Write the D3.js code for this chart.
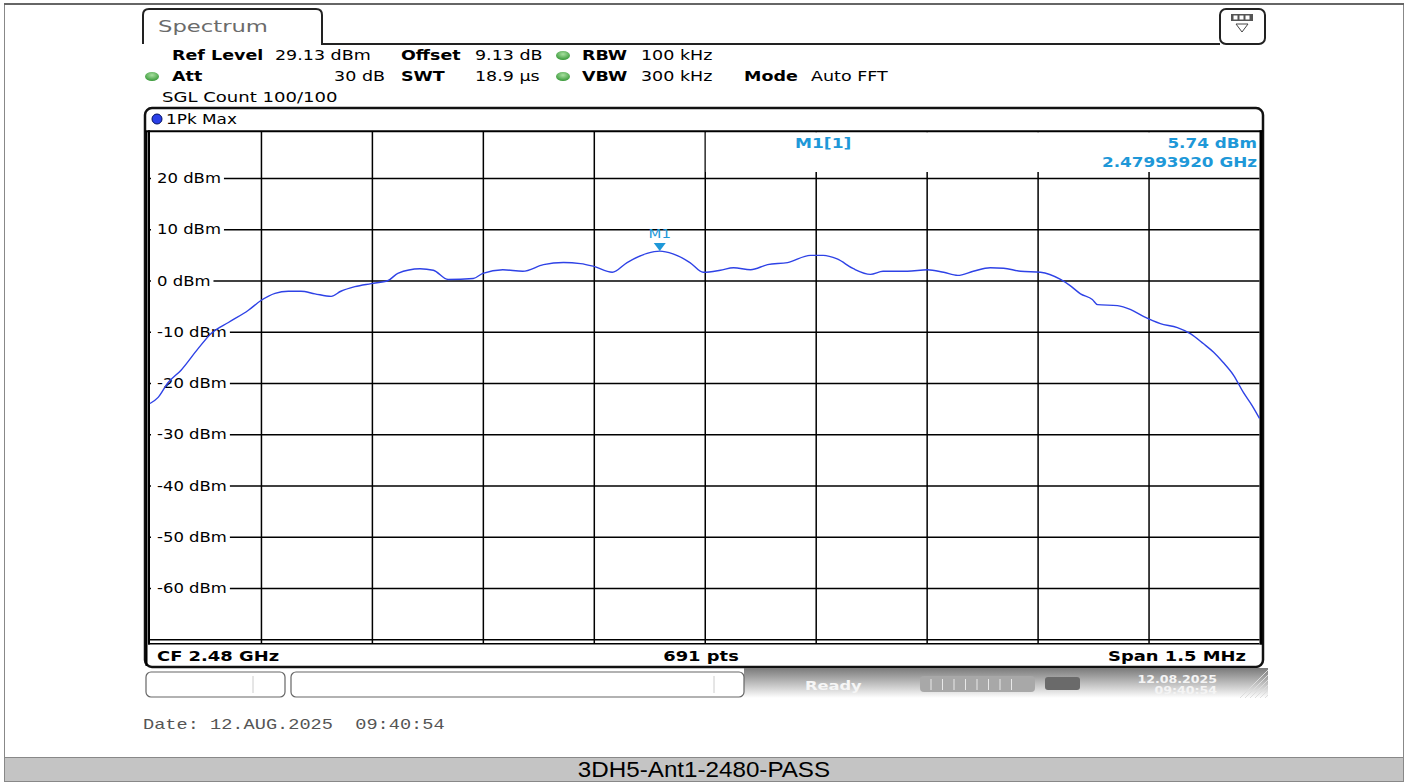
<!DOCTYPE html>
<html><head><meta charset="utf-8">
<script src="https://cdn.jsdelivr.net/npm/d3@7/dist/d3.min.js"></script>
<style>html,body{margin:0;padding:0;background:#fff;overflow:hidden} text{white-space:pre}</style>
</head><body>
<svg id="c" width="1408" height="782"></svg>
<script>
// ---- data ----
const freqKHz = [-750,-739,-726,-708,-685,-667,-644,-617,-600,-581,-563,-546,-527,-505,-492,-473,-451,-428,-415,-385,-367,-347,-313,-300,-273,-246,-218,-191,-168,-151,-125,-105,-78,-60.8,-43,-20,-2,21,39,62,85,112,143,160,179,201,224,241,274,301,323,342,363,386,404,427,454,481,494,508,524,531,558,576,593,616,639,657,674,688,701,715,728,740,750];
const levelDbm = [-24.0,-22.8,-20.0,-17.5,-13.3,-10.3,-8.2,-5.8,-3.9,-2.5,-2.1,-2.1,-2.6,-3.1,-2.1,-1.2,-0.6,0.0,1.4,2.3,2.0,0.2,0.4,1.4,2.1,1.8,3.1,3.5,3.3,2.8,1.6,3.5,5.3,5.74,5.2,3.5,1.6,2.0,2.5,2.1,3.1,3.5,4.9,4.9,4.2,2.3,1.2,1.8,1.8,2.1,1.6,1.0,1.8,2.5,2.4,1.8,1.6,0.2,-1.0,-2.6,-3.7,-4.7,-4.9,-5.7,-7.0,-8.4,-9.2,-10.4,-12.3,-14.0,-16.0,-18.5,-21.8,-24.4,-26.9];
const yTickValues = [20,10,0,-10,-20,-30,-40,-50,-60];
const yTickLabels = ['20 dBm','10 dBm','0 dBm','-10 dBm','-20 dBm','-30 dBm','-40 dBm','-50 dBm','-60 dBm'];
const yGridValues = [20,10,0,-10,-20,-30,-40,-50,-60,-70];
const xGridValues = [-600,-450,-300,-150,0,150,300,450,600];
const refLevel = 29.13, yRange = 100;
const marker = {freq:-60.8, level:5.74, label:'M1', info:'M1[1]', levelText:'5.74 dBm', freqText:'2.47993920 GHz'};
const headerRow1 = [['Ref Level',172,true],['29.13 dBm',275,false],['Offset',401,true],['9.13 dB',475,false],['RBW',582,true],['100 kHz',641,false]];
const headerRow2 = [['Att',172,true],['SWT',401,true],['18.9 µs',475,false],['VBW',582,true],['300 kHz',641,false],['Mode',744,true],['Auto FFT',811,false]];

// ---- drawing ----
const svg = d3.select('#c');
const SX = 1.25;
function T(g, x, y, s, o={}) {
  const t = g.append('text')
    .attr('transform', `translate(${x},${y}) scale(${o.sx||SX},1)`)
    .attr('text-anchor', o.anchor||'start')
    .attr('font-family', o.family||'DejaVu Sans')
    .attr('font-size', o.size||14)
    .attr('font-weight', o.weight||'normal')
    .attr('fill', o.fill||'#000')
    .text(s);
  return t;
}
const defs = svg.append('defs');
const gr = defs.append('linearGradient').attr('id','stat').attr('x1',0).attr('y1',0).attr('x2',0).attr('y2',1);
gr.append('stop').attr('offset','0%').attr('stop-color','#7a7a7a');
gr.append('stop').attr('offset','100%').attr('stop-color','#ffffff');
const gg = defs.append('radialGradient').attr('id','grn').attr('cx','50%').attr('cy','35%').attr('r','60%');
gg.append('stop').attr('offset','0%').attr('stop-color','#a8e0a0');
gg.append('stop').attr('offset','100%').attr('stop-color','#3f9d3f');

// outer frame and footer
svg.append('rect').attr('x',4.5).attr('y',4.5).attr('width',1399).attr('height',777).attr('fill','#fff').attr('stroke','#888');
svg.append('rect').attr('x',4.5).attr('y',757.5).attr('width',1399).attr('height',24).attr('fill','#c4c4c4').attr('stroke','#888');
T(svg, 704, 777, '3DH5-Ant1-2480-PASS', {anchor:'middle', family:'Liberation Sans', size:22, sx:1.1});
svg.append('line').attr('x1',4).attr('x2',1404).attr('y1',4).attr('y2',4).attr('stroke','#666').attr('stroke-width',2);

// tab
svg.append('path').attr('d','M143,44 V15 Q143,9 149,9 H316 Q322,9 322,15 V44 H1220')
  .attr('fill','none').attr('stroke','#222').attr('stroke-width',2);
T(svg, 158, 32, 'Spectrum', {size:16, fill:'#6b6b6b', sx:1.42});
svg.append('rect').attr('x',1220).attr('y',9).attr('width',45).attr('height',35).attr('rx',6)
  .attr('fill','#fff').attr('stroke','#222').attr('stroke-width',2);
svg.append('rect').attr('x',1231).attr('y',14).attr('width',22).attr('height',7).attr('fill','#555');
[1236,1242,1248].forEach(x=>svg.append('rect').attr('x',x-2.5).attr('y',15.5).attr('width',4).attr('height',4).attr('fill','#fff'));
svg.append('path').attr('d','M1236,24 L1248,24 L1242,32 Z').attr('fill','none').attr('stroke','#444').attr('stroke-width',1);

// header
headerRow1.forEach(d=>T(svg, d[1], 60, d[0], {weight:d[2]?'bold':'normal'}));
headerRow2.forEach(d=>T(svg, d[1], 81, d[0], {weight:d[2]?'bold':'normal'}));
T(svg, 385, 81, '30 dB', {anchor:'end'});
T(svg, 162, 102, 'SGL Count 100/100', {sx:1.29});
[[563,55.5],[152,76.5],[563,76.5]].forEach(p=>svg.append('ellipse').attr('cx',p[0]).attr('cy',p[1]).attr('rx',7).attr('ry',4.5).attr('fill','url(#grn)'));

// trace window frame
svg.append('rect').attr('x',145).attr('y',108).attr('width',1118).attr('height',559).attr('rx',7)
  .attr('fill','#fff').attr('stroke','#111').attr('stroke-width',2.5);
svg.append('circle').attr('cx',157).attr('cy',119).attr('r',5).attr('fill','#2a3fe8').attr('stroke','#001060').attr('stroke-width',1);
T(svg, 166, 124, '1Pk Max', {size:13.5});

// plot
const L = 150, R = 1259.5;
const x = d3.scaleLinear().domain([-750,750]).range([L,R]);
const y0 = 280.5, pxPerDb = 5.125;
const y = d3.scaleLinear().domain([refLevel-yRange, refLevel]).range([y0+(yRange-refLevel)*pxPerDb, y0-refLevel*pxPerDb]);
const yTop = y(refLevel), yBot = y(refLevel-yRange);
const plot = svg.append('g');
plot.append('rect').attr('x',L).attr('y',yTop).attr('width',R-L).attr('height',yBot-yTop).attr('fill','#fff');
// vertical grid
plot.append('g').attr('transform',`translate(0,${yBot})`)
  .call(d3.axisBottom(x).tickValues(xGridValues).tickSize(-(yBot-yTop)).tickFormat(''))
  .call(g=>{g.select('.domain').remove(); g.selectAll('line').attr('stroke','#000').attr('stroke-width',1.5);});
// marker info box covers the grid top-right
plot.append('rect').attr('x',x(0)+1).attr('y',yTop+1).attr('width',R-x(0)-2).attr('height',y(20)-6-yTop-1).attr('fill','#fff');
// horizontal grid
plot.append('g').attr('transform',`translate(${L},0)`)
  .call(d3.axisLeft(y).tickValues(yGridValues).tickSize(-(R-L)).tickFormat(''))
  .call(g=>{g.select('.domain').remove(); g.selectAll('line').attr('stroke','#000').attr('stroke-width',1.5);});
// tick labels with white background
yTickValues.forEach((v,i)=>{
  const bg = plot.append('rect').attr('fill','#fff');
  const t = T(plot, 157, y(v)+5, yTickLabels[i], {size:13.5, sx:1.22});
  const w = t.node().getComputedTextLength()*1.22;
  bg.attr('x',L+1).attr('y',y(v)-8).attr('width',157+w+3-L-1).attr('height',16);
});
// plot border
plot.append('line').attr('x1',L-1).attr('x2',L-1).attr('y1',yTop-1).attr('y2',yBot+1).attr('stroke','#000').attr('stroke-width',2);
plot.append('line').attr('x1',R+1.5).attr('x2',R+1.5).attr('y1',yTop-1).attr('y2',yBot+1).attr('stroke','#000').attr('stroke-width',3);
plot.append('line').attr('x1',145).attr('x2',1263).attr('y1',yTop).attr('y2',yTop).attr('stroke','#000').attr('stroke-width',2);
plot.append('line').attr('x1',L).attr('x2',R).attr('y1',yBot).attr('y2',yBot).attr('stroke','#000').attr('stroke-width',1.5);
svg.append('line').attr('x1',146.5).attr('x2',146.5).attr('y1',yTop).attr('y2',666).attr('stroke','#000').attr('stroke-width',2);

// trace
const pts = freqKHz.map((f,i)=>[f, levelDbm[i]]);
plot.append('path').datum(pts)
  .attr('d', d3.line().x(d=>x(d[0])).y(d=>y(d[1])).curve(d3.curveMonotoneX))
  .attr('fill','none').attr('stroke','#2e42e6').attr('stroke-width',1.4);

// marker
const mc = '#1e98d8';
const mx = x(marker.freq), my = y(marker.level);
plot.append('path').attr('d',`M${mx-6},${my-8} L${mx+6},${my-8} L${mx},${my} Z`).attr('fill',mc);
T(plot, mx, my-13, marker.label, {anchor:'middle', size:13, fill:mc, sx:1.15});
T(plot, 795, 148, marker.info, {size:14, fill:mc, weight:'bold', sx:1.22});
T(plot, 1257, 148, marker.levelText, {anchor:'end', size:14, fill:mc, weight:'bold', sx:1.2});
T(plot, 1257, 167, marker.freqText, {anchor:'end', size:14, fill:mc, weight:'bold', sx:1.2});

// bottom row
T(svg, 157, 661, 'CF 2.48 GHz', {weight:'bold', sx:1.28});
T(svg, 701, 661, '691 pts', {weight:'bold', anchor:'middle', sx:1.28});
T(svg, 1246, 661, 'Span 1.5 MHz', {weight:'bold', anchor:'end', sx:1.28});

// status bar
svg.append('rect').attr('x',744).attr('y',668).attr('width',524).attr('height',30).attr('fill','url(#stat)');
svg.append('rect').attr('x',146).attr('y',672).attr('width',139).attr('height',25).attr('rx',5).attr('fill','#fff').attr('stroke','#666').attr('stroke-width',1.2);
svg.append('line').attr('x1',253).attr('x2',253).attr('y1',676).attr('y2',693).attr('stroke','#ccc');
svg.append('rect').attr('x',291).attr('y',672).attr('width',453).attr('height',25).attr('rx',5).attr('fill','#fff').attr('stroke','#666').attr('stroke-width',1.2);
svg.append('line').attr('x1',714).attr('x2',714).attr('y1',676).attr('y2',693).attr('stroke','#ccc');
T(svg, 805, 690, 'Ready', {weight:'bold', fill:'#f6f6f6', size:13, sx:1.25});
svg.append('rect').attr('x',920).attr('y',676).attr('width',115).attr('height',16).attr('rx',4).attr('fill','#a8a8a8');
d3.range(8).forEach(i=>svg.append('line').attr('x1',931+i*11.5).attr('x2',931+i*11.5).attr('y1',679).attr('y2',690).attr('stroke','#e8e8e8'));
svg.append('rect').attr('x',1045).attr('y',677).attr('width',35).attr('height',13).attr('rx',3).attr('fill','#6a6a6a');
T(svg, 1217, 683, '12.08.2025', {weight:'bold', fill:'#f4f4f4', size:10.5, anchor:'end', sx:1.2});
T(svg, 1217, 694, '09:40:54', {weight:'bold', fill:'#f4f4f4', size:10.5, anchor:'end', sx:1.2});
d3.range(6).forEach(i=>svg.append('line').attr('x1',1240+i*5).attr('y1',698).attr('x2',1268).attr('y2',670+i*5).attr('stroke','#ddd'));

// date
T(svg, 143, 729, 'Date: 12.AUG.2025  09:40:54', {family:'Liberation Mono', size:14, fill:'#555', sx:1.33}).attr('xml:space','preserve');
</script>
</body></html>
